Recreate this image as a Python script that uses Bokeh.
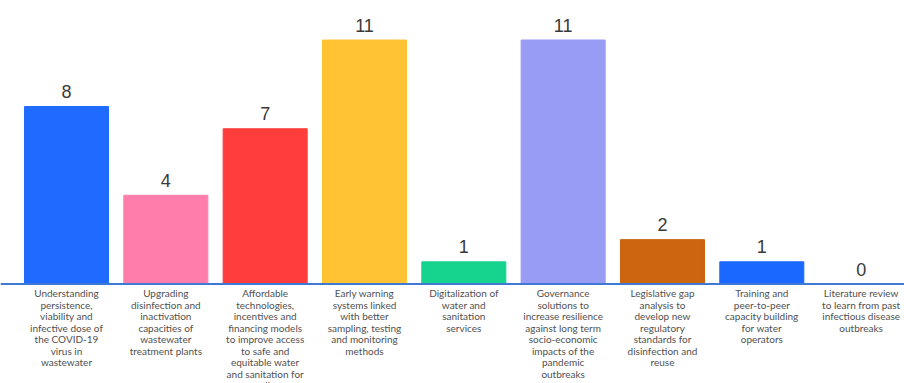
from bokeh.plotting import figure
from bokeh.models import ColumnDataSource, Range1d, Span
from bokeh.core.properties import value
from bokeh.embed import file_html
from bokeh.resources import INLINE

categories = [
    "Understanding\npersistence,\nviability and\ninfective dose of\nthe COVID-19\nvirus in\nwastewater",
    "Upgrading\ndisinfection and\ninactivation\ncapacities of\nwastewater\ntreatment plants",
    "Affordable\ntechnologies,\nincentives and\nfinancing models\nto improve access\nto safe and\nequitable water\nand sanitation for\nall",
    "Early warning\nsystems linked\nwith better\nsampling, testing\nand monitoring\nmethods",
    "Digitalization of\nwater and\nsanitation\nservices",
    "Governance\nsolutions to\nincrease resilience\nagainst long term\nsocio-economic\nimpacts of the\npandemic\noutbreaks",
    "Legislative gap\nanalysis to\ndevelop new\nregulatory\nstandards for\ndisinfection and\nreuse",
    "Training and\npeer-to-peer\ncapacity building\nfor water\noperators",
    "Literature review\nto learn from past\ninfectious disease\noutbreaks",
]
counts = [8, 4, 7, 11, 1, 11, 2, 1, 0]
colors = ["#1F6BFF", "#FF7DAA", "#FF3D3D", "#FFC334", "#16D38D",
          "#989CF4", "#CC650F", "#1A68FF", "#1A68FF"]

W, H = 904, 383
px_per_cat = 99.33
x0_px = 66.0          # first category centre from left edge of canvas
px_per_unit = 22.18
axis_px = 283.5       # baseline from top of canvas

xs = list(range(len(counts)))
src = ColumnDataSource(dict(x=xs, top=counts, color=colors,
                            cat=categories, lbl=[str(c) for c in counts],
                            zero=[0] * len(counts)))

x_start = -x0_px / px_per_cat
x_end = x_start + W / px_per_cat
y_end = axis_px / px_per_unit
y_start = -(H - axis_px) / px_per_unit

p = figure(width=W, height=H, output_backend="svg", toolbar_location=None,
           x_range=Range1d(x_start, x_end), y_range=Range1d(y_start, y_end),
           min_border=0, outline_line_color=None)
p.axis.visible = False
p.grid.visible = False
p.background_fill_color = "white"

p.vbar(x="x", top="top", bottom=0, width=0.846, color="color", source=src)

p.add_layout(Span(location=0, dimension="width", line_color="#3F79D6", line_width=2))

p.text(x="x", y="top", text="lbl", source=src, text_align="center",
       text_baseline="alphabetic", y_offset=-15, text_font=value("Liberation Sans"),
       text_font_size="18px", text_color="#3A3A3A")

p.text(x="x", y="zero", text="cat", source=src, text_align="center",
       text_baseline="top", y_offset=3, text_font=value("Lato"),
       text_font_size="10px", text_line_height=0.96, text_color="#505050")

open("out.html", "w").write(file_html(p, INLINE))
